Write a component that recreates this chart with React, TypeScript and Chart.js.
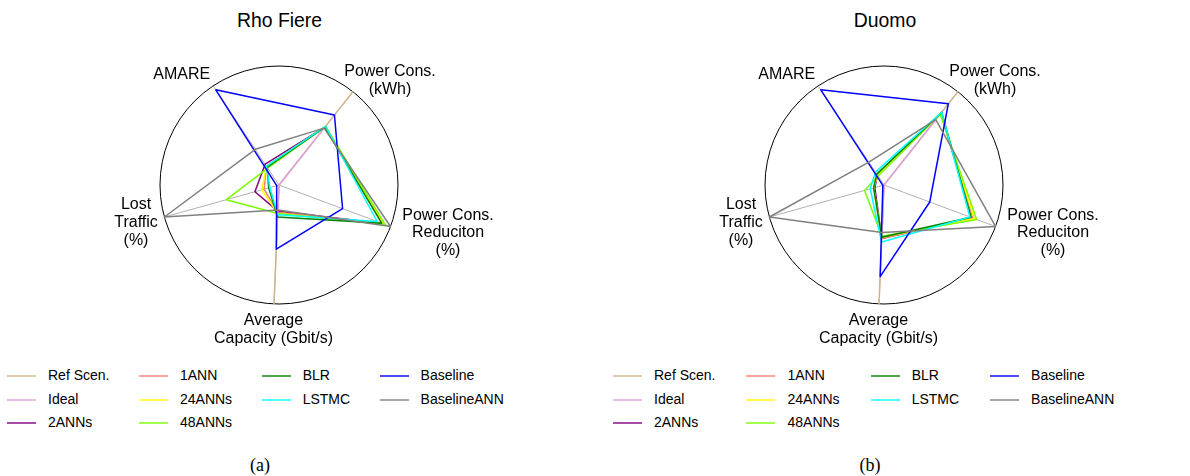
import React, { useEffect, useRef } from 'react';
import { Chart, registerables } from 'chart.js';

Chart.register(...registerables);

// ---------- data ----------
const axisLabels: string[][] = [
  ['Power Cons.', '(kWh)'],
  ['Power Cons.', 'Reduciton', '(%)'],
  ['Average', 'Capacity (Gbit/s)'],
  ['Lost', 'Traffic', '(%)'],
  ['AMARE'],
];

const seriesNames = ['Ref Scen.', 'Ideal', '2ANNs', '1ANN', '24ANNs', '48ANNs', 'BLR', 'LSTMC', 'Baseline', 'BaselineANN'];

// axis order: Power Cons., Power Cons. Reduction, Average Capacity, Lost Traffic, AMARE
const rhoRefScen = [1.0, 0.0, 1.0, 0.0, 0.0];
const rhoIdeal = [0.61, 0.0, 0.2, 0.0, 0.0];
const rho2ANNs = [0.62, 0.93, 0.22, 0.21, 0.21];
const rho1ANN = [0.62, 0.93, 0.23, 0.13, 0.19];
const rho24ANNs = [0.62, 0.94, 0.24, 0.15, 0.19];
const rho48ANNs = [0.63, 0.95, 0.24, 0.46, 0.17];
const rhoBLR = [0.62, 0.92, 0.27, 0.09, 0.18];
const rhoLSTMC = [0.63, 0.88, 0.25, 0.08, 0.19];
const rhoBaseline = [0.75, 0.57, 0.54, 0.02, 0.96];
const rhoBaselineANN = [0.61, 1.0, 0.21, 1.0, 0.36];

const duoRefScen = [1.0, 0.0, 1.0, 0.0, 0.0];
const duoIdeal = [0.72, 0.0, 0.42, 0.0, 0.0];
const duo2ANNs = [0.77, 0.79, 0.45, 0.08, 0.1];
const duo1ANN = [0.77, 0.79, 0.45, 0.09, 0.1];
const duo24ANNs = [0.77, 0.81, 0.44, 0.09, 0.1];
const duo48ANNs = [0.76, 0.83, 0.43, 0.17, 0.09];
const duoBLR = [0.78, 0.78, 0.44, 0.09, 0.11];
const duoLSTMC = [0.78, 0.77, 0.48, 0.12, 0.13];
const duoBaseline = [0.87, 0.41, 0.77, 0.01, 0.96];
const duoBaselineANN = [0.7, 1.0, 0.4, 1.0, 0.23];

const rhoSeries = [rhoRefScen, rhoIdeal, rho2ANNs, rho1ANN, rho24ANNs, rho48ANNs, rhoBLR, rhoLSTMC, rhoBaseline, rhoBaselineANN];
const duoSeries = [duoRefScen, duoIdeal, duo2ANNs, duo1ANN, duo24ANNs, duo48ANNs, duoBLR, duoLSTMC, duoBaseline, duoBaselineANN];

// ---------- styles ----------
const seriesColors = ['#D2B48C', '#DDA0DD', '#800080', '#FA8072', '#FFFF00', '#7CFC00', '#008000', '#00FFFF', '#0000FF', '#808080'];
const SANS = '"Liberation Sans", Arial, Helvetica, sans-serif';
const SERIF = '"Liberation Serif", "Times New Roman", serif';

// label block centres relative to the radar centre (px)
const labelLayout = {
  offsets: [
    [111, -104.2],
    [169, 48],
    [-5.5, 144.8],
    [-143, 37.3],
    [-97.3, -110.8],
  ],
  lineHeight: 17.8,
  font: `16px ${SANS}`,
};

function makeLabelPlugin() {
  return {
    id: 'axisLabelText',
    afterDraw(chart: any) {
      const s = chart.scales.r;
      const ctx = chart.ctx as CanvasRenderingContext2D;
      ctx.save();
      ctx.font = labelLayout.font;
      ctx.fillStyle = '#000';
      ctx.textAlign = 'center';
      ctx.textBaseline = 'middle';
      (chart.data.labels as string[][]).forEach((lines, i) => {
        const [dx, dy] = labelLayout.offsets[i];
        const n = lines.length;
        lines.forEach((line, j) => {
          ctx.fillText(line, s.xCenter + dx, s.yCenter + dy + (j - (n - 1) / 2) * labelLayout.lineHeight);
        });
      });
      ctx.restore();
    },
  };
}

type RadarProps = {
  series: number[][];
  left: number;
  padLeft: number;
};

const CANVAS_W = 595;
const CANVAS_H = 360;
const RADIUS = 119;
const PAD_TOP = 66;

function Radar({ series, left, padLeft }: RadarProps) {
  const ref = useRef<HTMLCanvasElement | null>(null);
  useEffect(() => {
    if (!ref.current) return;
    const chart = new Chart(ref.current, {
      type: 'radar',
      data: {
        labels: axisLabels as any,
        datasets: seriesNames.map((name, i) => ({
          label: name,
          data: series[i],
          borderColor: seriesColors[i],
          backgroundColor: 'rgba(0,0,0,0)',
          borderWidth: 1.5,
          borderJoinStyle: 'round',
          pointRadius: 0,
          pointHoverRadius: 0,
          fill: false,
          clip: false,
          order: seriesNames.length - i,
        })) as any,
      },
      options: {
        responsive: false,
        animation: false,
        events: [],
        layout: {
          padding: {
            left: padLeft,
            right: CANVAS_W - padLeft - 2 * RADIUS,
            top: PAD_TOP,
            bottom: CANVAS_H - PAD_TOP - 2 * RADIUS,
          },
        },
        plugins: {
          legend: { display: false },
          title: { display: false },
          tooltip: { enabled: false },
        },
        scales: {
          r: {
            min: 0,
            max: 1,
            startAngle: 38.4,
            ticks: { display: false, stepSize: 1 },
            grid: { circular: true, color: '#000000', lineWidth: 1 },
            angleLines: { display: true, color: '#b0b0b0', lineWidth: 1 },
            pointLabels: { display: false },
          },
        },
      } as any,
      plugins: [makeLabelPlugin()],
    });
    return () => chart.destroy();
  }, [series, padLeft]);
  return (
    <canvas
      ref={ref}
      width={CANVAS_W}
      height={CANVAS_H}
      style={{ position: 'absolute', left, top: 0, width: CANVAS_W, height: CANVAS_H }}
    />
  );
}

const legendColumns = [
  [0, 1, 2],
  [3, 4, 5],
  [6, 7],
  [8, 9],
];

function Legend({ left, gap }: { left: number; gap: number }) {
  const rowH = 23.6;
  return (
    <div style={{ position: 'absolute', left, top: 376 - rowH / 2, display: 'flex', columnGap: gap }}>
      {legendColumns.map((col, ci) => (
        <div key={ci} style={{ display: 'flex', flexDirection: 'column' }}>
          {col.map((si) => (
            <div key={si} style={{ display: 'flex', alignItems: 'center', height: rowH }}>
              <div style={{ width: 29, height: 2, background: seriesColors[si], opacity: 0.7, marginRight: 12 }} />
              <span style={{ fontSize: 14, lineHeight: `${rowH}px`, whiteSpace: 'nowrap', color: '#000' }}>{seriesNames[si]}</span>
            </div>
          ))}
        </div>
      ))}
    </div>
  );
}

function Title({ text, cx }: { text: string; cx: number }) {
  return (
    <div
      style={{
        position: 'absolute',
        left: cx - 150,
        width: 300,
        top: 10,
        textAlign: 'center',
        fontSize: 19.4,
        lineHeight: '20px',
        color: '#000',
      }}
    >
      {text}
    </div>
  );
}

function Caption({ text, cx }: { text: string; cx: number }) {
  return (
    <div
      style={{
        position: 'absolute',
        left: cx - 50,
        width: 100,
        top: 455.4,
        textAlign: 'center',
        fontFamily: SERIF,
        fontSize: 18,
        lineHeight: '20px',
        color: '#000',
      }}
    >
      {text}
    </div>
  );
}

export default function App() {
  return (
    <div
      style={{
        position: 'absolute',
        left: 0,
        top: 0,
        width: 1190,
        height: 476,
        background: '#ffffff',
        overflow: 'hidden',
        fontFamily: SANS,
      }}
    >
      <Title text="Rho Fiere" cx={279.5} />
      <Title text="Duomo" cx={885} />
      <Radar series={rhoSeries} left={0} padLeft={160} />
      <Radar series={duoSeries} left={595} padLeft={170} />
      <Legend left={7} gap={29.5} />
      <Legend left={613} gap={31} />
      <Caption text="(a)" cx={260} />
      <Caption text="(b)" cx={870} />
    </div>
  );
}
